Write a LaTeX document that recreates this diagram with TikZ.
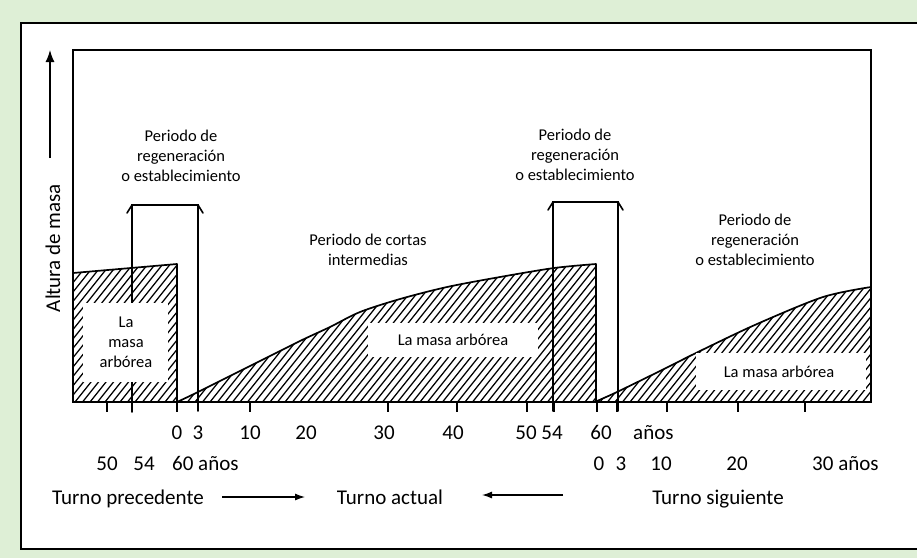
\documentclass[tikz,border=0pt]{standalone}
\usepackage{fontspec}
\setmainfont{Carlito}
\usetikzlibrary{arrows.meta}
\definecolor{bggreen}{RGB}{222,239,214}
\begin{document}
\begin{tikzpicture}[x=1pt,y=-1pt,
  lbl/.style={font=\fontsize{16.5}{20}\selectfont, align=center, inner sep=0pt},
  num/.style={font=\fontsize{21}{25}\selectfont, anchor=base, inner sep=0pt},
  hatchline/.style={line width=1.25pt},
  edge/.style={line width=1.7pt, line join=round},
  tick/.style={line width=1.4pt},
  brk/.style={line width=1.6pt, line cap=round, line join=miter},
  wbox/.style={fill=white, draw=none}]
\useasboundingbox (0,0) rectangle (917,558);
\fill[bggreen] (0,0) rectangle (917,558);
\fill[white] (21,23) rectangle (917,549);
\draw[line width=1.2pt] (921,23) -- (21,23) -- (21,549) -- (921,549);

% hatched regions
\begin{scope}
\clip (73,273) -- (177,264) -- (177,402) -- (73,402) -- cycle;
\foreach \i in {-60,-52.5,...,180} \draw[hatchline] (\i,402) -- ++(200,-250);
\end{scope}
\begin{scope}
\clip plot[smooth] coordinates {(177,402) (198,392) (250,366) (300,341) (330,327) (360,312) (400,299) (447,287) (500,277) (554,268) (596,264)} -- (596,402) -- cycle;
\foreach \i in {52.5,60,...,600} \draw[hatchline] (\i,402) -- ++(200,-250);
\end{scope}
\begin{scope}
\clip plot[smooth] coordinates {(597,401) (617,392) (660,371) (700,351) (757,324) (823,297) (871,287)} -- (871,402) -- cycle;
\foreach \i in {495,502.5,...,876} \draw[hatchline] (\i,402) -- ++(200,-250);
\end{scope}

% outlines of the masses
\draw[edge] (73,273) -- (177,264) -- (177,402);
\draw[edge] plot[smooth] coordinates {(177,402) (198,392) (250,366) (300,341) (330,327) (360,312) (400,299) (447,287) (500,277) (554,268) (596,264)} -- (596,402);
\draw[edge] plot[smooth] coordinates {(597,401) (617,392) (660,371) (700,351) (757,324) (823,297) (871,287)};

% regeneration brackets
\draw[brk] (132,412) -- (132,205) -- (198,205) -- (198,411);
\draw[brk] (127,213) -- (132,205);
\draw[brk] (203,213) -- (198,205);
\draw[brk] (553,411) -- (553,202) -- (618,202) -- (618,411);
\draw[brk] (548,210) -- (553,202);
\draw[brk] (623,210) -- (618,202);

% white label boxes
\fill[wbox] (83,303) rectangle (168,382);
\fill[wbox] (368,323) rectangle (538,357);
\fill[wbox] (696,353) rectangle (866,390);

% plot frame
\draw[line width=2pt] (73,50) rectangle (871,402);

% ticks
\foreach \t in {107,177,250,388,457,527,554,597,617,667,738,805}
  \draw[tick] (\t,402) -- (\t,412);

% y axis
\draw[line width=1.3pt, -{Latex[length=12pt,width=9pt]}] (50,158) -- (50,50);
\node[font=\fontsize{21}{25}\selectfont, rotate=90, inner sep=0pt] (ylab) at (53,248) {Altura de masa};

% labels in the plot
\node[lbl] (reg1) at (181,156) {Periodo de\\regeneración\\o establecimiento};
\node[lbl] (reg2) at (575,155) {Periodo de\\regeneración\\o establecimiento};
\node[lbl] (reg3) at (755,240) {Periodo de\\regeneración\\o establecimiento};
\node[lbl] (cort) at (368,250) {Periodo de cortas\\intermedias};
\node[lbl] (m1) at (126,342) {La\\masa\\arbórea};
\node[lbl] (m2) at (453,340) {La masa arbórea};
\node[lbl] (m3) at (779,372) {La masa arbórea};

% row 1
\node[num] (a0) at (177,439) {0};
\node[num] (a3) at (198,439) {3};
\node[num] (a10) at (250,439) {10};
\node[num] (a20) at (306,439) {20};
\node[num] (a30) at (384,439) {30};
\node[num] (a40) at (453,439) {40};
\node[num] (a50) at (526,439) {50};
\node[num] (a54) at (552,439) {54};
\node[num] (a60) at (601,439) {60};
\node[num, anchor=base west] (aan) at (633,439) {años};
% row 2
\node[num] (p50) at (107,470) {50};
\node[num] (p54) at (144,470) {54};
\node[num, anchor=base west] (p60) at (172,470) {60 años};
\node[num] (s0) at (599,470) {0};
\node[num] (s3) at (621,470) {3};
\node[num] (s10) at (661,470) {10};
\node[num] (s20) at (737,470) {20};
\node[num, anchor=base west] (s30) at (812,470) {30 años};
% row 3
\node[num] (tp) at (128,504) {Turno precedente};
\node[num] (ta) at (390,504) {Turno actual};
\node[num] (ts) at (718,504) {Turno siguiente};
\coordinate (r1s) at (222,497);
\coordinate (r1e) at (305,497);
\coordinate (r2s) at (563,495);
\coordinate (r2e) at (482,495);
\draw[line width=1.2pt, -{Latex[length=10pt,width=7pt]}] (r1s) -- (r1e);
\draw[line width=1.2pt, -{Latex[length=10pt,width=7pt]}] (r2s) -- (r2e);
\end{tikzpicture}
\end{document}
